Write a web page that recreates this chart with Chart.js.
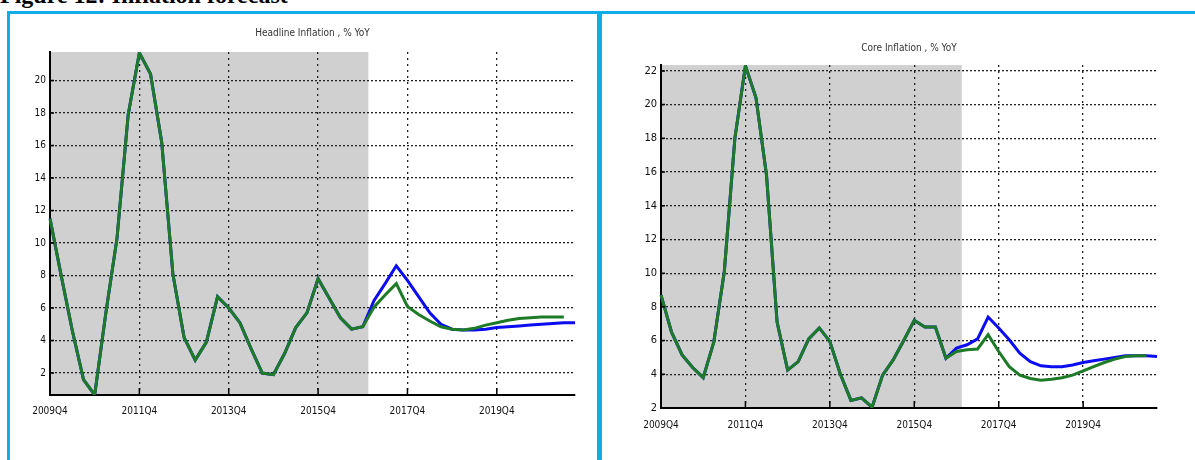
<!DOCTYPE html>
<html>
<head>
<meta charset="utf-8">
<script src="https://cdn.jsdelivr.net/npm/chart.js@4.4.1/dist/chart.umd.min.js"></script>
<style>
  body { margin: 0; width: 1195px; height: 460px; overflow: hidden; background: #fff; position: relative; }
  #figTitle { position: absolute; left: 0; top: -18px; font: bold 24px "Liberation Serif", serif; white-space: nowrap; color: #000; }
  .panel { position: absolute; top: 11px; height: 460px; border-top: 3px solid #12ade8; box-sizing: border-box; }
  #p1 { left: 7px; width: 593px; border-left: 3px solid #12ade8; border-right: 3px solid #12ade8; }
  #p2 { left: 600px; width: 600px; border-left: 2px solid #12ade8; }
  canvas { position: absolute; }
</style>
</head>
<body>
<div id="figTitle">Figure 12: Inflation forecast</div>
<div class="panel" id="p1"></div>
<div class="panel" id="p2"></div>
<canvas id="headlineChart" width="586" height="446" style="left:10px;top:14px;width:586px;height:446px"></canvas>
<canvas id="coreChart" width="593" height="446" style="left:602px;top:14px;width:593px;height:446px"></canvas>
<script>
// quarters 2009Q4 .. 2021Q3
const quarters = [];
for (let i = 0; i < 48; i++) {
  const q = 3 + i;
  quarters.push((2009 + Math.floor(q / 4)) + 'Q' + (q % 4 + 1));
}
const xTickLabels = ['2009Q4', '2011Q4', '2013Q4', '2015Q4', '2017Q4', '2019Q4'];
const shadeEnd = 28.5; // history shading ends here (quarter index)

// Headline inflation, % YoY
const headlineHist = [11.5, 8.0, 4.6, 1.6, 0.65, 5.7, 10.3, 17.9, 21.7, 20.4, 16.2, 8.1, 4.2, 2.8, 3.9, 6.7, 6.0, 5.1, 3.5, 2.0, 1.9, 3.2, 4.8, 5.7, 7.8, 6.6, 5.4, 4.7, 4.85];
const headlineBlueFcst = [6.45, 7.5, 8.6, 7.7, 6.7, 5.7, 5.0, 4.7, 4.65, 4.65, 4.7, 4.8, 4.85, 4.9, 4.95, 5.0, 5.05, 5.1, 5.1];
const headlineGreenFcst = [6.05, 6.8, 7.5, 6.1, 5.6, 5.2, 4.85, 4.7, 4.65, 4.75, 4.95, 5.1, 5.25, 5.35, 5.4, 5.45, 5.45, 5.45];
const headlineTicks = [2, 4, 6, 8, 10, 12, 14, 16, 18, 20];

// Core inflation, % YoY
const coreHist = [8.7, 6.5, 5.15, 4.4, 3.8, 5.9, 10.1, 18.0, 22.3, 20.4, 15.8, 7.1, 4.25, 4.75, 6.1, 6.75, 5.95, 4.0, 2.45, 2.6, 2.05, 3.95, 4.85, 6.0, 7.2, 6.8, 6.8, 4.95];
const coreBlueFcst = [5.55, 5.75, 6.1, 7.4, 6.75, 6.05, 5.25, 4.75, 4.5, 4.45, 4.45, 4.55, 4.7, 4.8, 4.9, 5.0, 5.1, 5.1, 5.1, 5.05];
const coreGreenFcst = [5.35, 5.45, 5.5, 6.35, 5.35, 4.45, 3.95, 3.75, 3.65, 3.7, 3.8, 3.95, 4.2, 4.45, 4.7, 4.9, 5.05, 5.1, 5.1];
const coreTicks = [2, 4, 6, 8, 10, 12, 14, 16, 18, 20, 22];

Chart.defaults.font.family = '"Liberation Sans Narrow", "Arial Narrow", "DejaVu Sans Condensed", sans-serif';
Chart.defaults.color = '#111';

const shading = {
  id: 'shading',
  beforeDraw(chart) {
    const { ctx, chartArea: a, scales: { x } } = chart;
    ctx.save();
    ctx.fillStyle = '#d0d0d0';
    ctx.fillRect(a.left, a.top, x.getPixelForValue(shadeEnd) - a.left, a.bottom - a.top);
    ctx.restore();
  }
};

// matlab style ticks pointing inward
const innerTicks = {
  id: 'innerTicks',
  afterDatasetsDraw(chart) {
    const { ctx, chartArea: a, scales: { x, y } } = chart;
    ctx.save();
    ctx.strokeStyle = '#000';
    ctx.lineWidth = 1.5;
    ctx.beginPath();
    x.ticks.forEach((t, i) => {
      if (xTickLabels.includes(quarters[i])) {
        const px = x.getPixelForTick(i);
        ctx.moveTo(px, a.bottom);
        ctx.lineTo(px, a.bottom - 7);
      }
    });
    y.ticks.forEach((t, i) => {
      const py = y.getPixelForTick(i);
      ctx.moveTo(a.left, py);
      ctx.lineTo(a.left + 4, py);
    });
    ctx.stroke();
    ctx.restore();
  }
};

function makeChart(id, c) {
  const ctx = document.getElementById(id).getContext('2d');
  return new Chart(ctx, {
    type: 'line',
    data: {
      labels: quarters,
      datasets: [
        { data: c.hist.concat(c.green), borderColor: '#1d7a26', borderWidth: 3, pointRadius: 0, tension: 0 },
        { data: c.hist.concat(c.blue), borderColor: '#0c0cf0', borderWidth: 3, pointRadius: 0, tension: 0 }
      ]
    },
    options: {
      responsive: false,
      animation: false,
      devicePixelRatio: 1,
      layout: { padding: { right: c.padRight } },
      plugins: {
        legend: { display: false },
        tooltip: { enabled: false },
        title: {
          display: true,
          text: c.title,
          fullSize: false,
          color: '#333',
          font: { size: 10, weight: 'normal' },
          padding: c.titlePad
        }
      },
      scales: {
        x: {
          type: 'category',
          offset: false,
          afterFit: s => { s.height = c.xHeight; },
          ticks: {
            autoSkip: false,
            maxRotation: 0,
            padding: c.xPad,
            font: { size: 10 },
            callback: (v, i) => xTickLabels.includes(quarters[i]) ? quarters[i] : ''
          },
          grid: {
            drawTicks: false,
            lineWidth: 1.3,
            color: g => (g.index > 0 && xTickLabels.includes(quarters[g.index])) ? '#222' : 'transparent'
          },
          border: { display: true, color: '#000', width: 2, dash: [2, 4] }
        },
        y: {
          min: c.yMin,
          max: c.yMax,
          afterBuildTicks: s => { s.ticks = c.yTicks.map(v => ({ value: v })); },
          afterFit: s => { s.width = c.yWidth; },
          ticks: { padding: 4, font: { size: c.yFont } },
          grid: { drawTicks: false, lineWidth: 1.3, color: '#222' },
          border: { display: true, color: '#000', width: 2, dash: [2, 2] }
        }
      }
    },
    plugins: [shading, innerTicks]
  });
}

makeChart('headlineChart', {
  title: 'Headline Inflation , % YoY',
  hist: headlineHist, blue: headlineBlueFcst, green: headlineGreenFcst,
  yMin: 0.65, yMax: 21.75, yTicks: headlineTicks, yFont: 10,
  yWidth: 40, padRight: 21, titlePad: { top: 13, bottom: 13 }, xHeight: 65, xPad: 10
});

makeChart('coreChart', {
  title: 'Core Inflation , % YoY',
  hist: coreHist, blue: coreBlueFcst, green: coreGreenFcst,
  yMin: 2, yMax: 22.35, yTicks: coreTicks, yFont: 11,
  yWidth: 59, padRight: 38, titlePad: { top: 28, bottom: 11 }, xHeight: 52, xPad: 11
});
</script>
</body>
</html>
